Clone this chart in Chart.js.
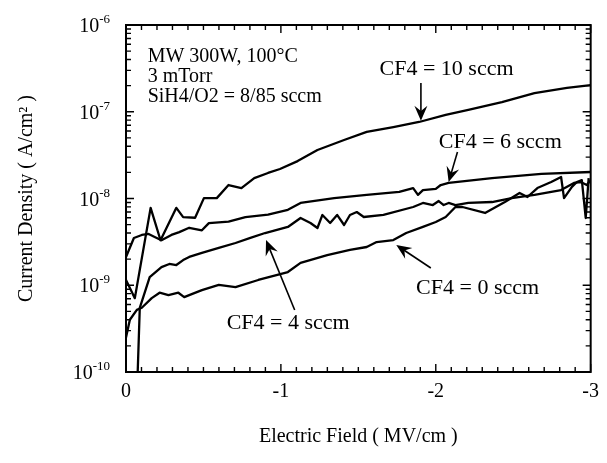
<!DOCTYPE html>
<html>
<head>
<meta charset="utf-8">
<script src="https://cdn.jsdelivr.net/npm/chart.js@4.4.0/dist/chart.umd.min.js"></script>
<style>
  html, body { margin: 0; padding: 0; background: #fff; }
</style>
</head>
<body>
<canvas id="iv-chart" width="607" height="463"></canvas>
<script>
// Electric field (MV/cm) vs current density (A/cm^2), one pair of arrays per CF4 flow
const field10 = [0, -0.057, -0.159, -0.223, -0.325, -0.369, -0.446, -0.503, -0.586, -0.662, -0.745, -0.828, -0.917, -0.994, -1.108, -1.236, -1.408, -1.554, -1.726, -1.892, -2.064, -2.21, -2.427, -2.637, -2.847, -3.0];
const current10 = [1.15e-9, 7.1e-10, 7.8e-9, 3.3e-9, 7.8e-9, 6.1e-9, 6.0e-9, 1.01e-8, 1.01e-8, 1.43e-8, 1.32e-8, 1.72e-8, 1.97e-8, 2.19e-8, 2.70e-8, 3.62e-8, 4.72e-8, 5.85e-8, 6.67e-8, 7.62e-8, 9.18e-8, 1.05e-7, 1.29e-7, 1.64e-7, 1.88e-7, 2.03e-7];

const field6 = [0, -0.051, -0.102, -0.146, -0.185, -0.229, -0.293, -0.344, -0.408, -0.49, -0.535, -0.662, -0.771, -0.917, -1.045, -1.127, -1.344, -1.554, -1.764, -1.854, -1.885, -1.917, -2.0, -2.032, -2.083, -2.363, -2.682, -3.0];
const current6 = [2.12e-9, 3.5e-9, 3.8e-9, 3.9e-9, 3.6e-9, 3.3e-9, 3.8e-9, 4.1e-9, 4.6e-9, 4.3e-9, 5.2e-9, 5.4e-9, 6.1e-9, 6.5e-9, 7.4e-9, 8.9e-9, 1.01e-8, 1.10e-8, 1.19e-8, 1.32e-8, 1.10e-8, 1.25e-8, 1.29e-8, 1.43e-8, 1.51e-8, 1.72e-8, 1.92e-8, 2.02e-8];

const field4 = [-0.07, -0.089, -0.153, -0.229, -0.28, -0.325, -0.369, -0.408, -0.49, -0.599, -0.707, -0.803, -0.898, -1.045, -1.127, -1.191, -1.236, -1.268, -1.318, -1.363, -1.408, -1.446, -1.49, -1.535, -1.662, -1.854, -1.917, -1.981, -2.019, -2.051, -2.083, -2.127, -2.21, -2.363, -2.49, -2.637, -2.809, -2.892, -2.936, -2.975, -3.0];
const current4 = [5e-11, 5.5e-10, 1.24e-9, 1.62e-9, 1.76e-9, 1.71e-9, 1.95e-9, 2.12e-9, 2.36e-9, 2.69e-9, 3.07e-9, 3.51e-9, 4.0e-9, 4.7e-9, 5.96e-9, 5.22e-9, 4.57e-9, 6.46e-9, 5.22e-9, 6.46e-9, 4.95e-9, 6.46e-9, 6.98e-9, 6.12e-9, 6.46e-9, 7.98e-9, 8.88e-9, 8.41e-9, 9.35e-9, 8.41e-9, 8.88e-9, 8.41e-9, 8.88e-9, 9.11e-9, 1.01e-8, 1.10e-8, 1.25e-8, 1.51e-8, 1.55e-8, 1.43e-8, 1.63e-8];

const field0 = [0, -0.025, -0.07, -0.102, -0.166, -0.217, -0.274, -0.338, -0.376, -0.408, -0.49, -0.599, -0.707, -0.854, -1.045, -1.127, -1.299, -1.446, -1.554, -1.618, -1.726, -1.809, -1.917, -2.0, -2.064, -2.127, -2.172, -2.318, -2.446, -2.541, -2.592, -2.656, -2.745, -2.809, -2.828, -2.879, -2.911, -2.943, -2.968, -2.987];
const current0 = [2.5e-10, 4.0e-10, 5.2e-10, 5.5e-10, 7.1e-10, 8.2e-10, 7.7e-10, 8.2e-10, 7.3e-10, 7.7e-10, 8.8e-10, 1.01e-9, 9.5e-10, 1.15e-9, 1.42e-9, 1.81e-9, 2.23e-9, 2.55e-9, 2.76e-9, 3.15e-9, 3.32e-9, 4.0e-9, 4.7e-9, 5.36e-9, 6.12e-9, 7.98e-9, 7.98e-9, 6.81e-9, 9.11e-9, 1.16e-8, 1.04e-8, 1.32e-8, 1.55e-8, 1.77e-8, 1.01e-8, 1.36e-8, 1.55e-8, 1.63e-8, 5.96e-9, 1.72e-8];

const xTicks = [0, -1, -2, -3];
const yDecades = [-10, -9, -8, -7, -6];

const FONT = '"Liberation Serif", "Times New Roman", serif';

const toPoints = (xs, ys) => xs.map((x, i) => ({ x, y: ys[i] }));

// Text labels and arrows, placed in data coordinates
const notes = [
  { text: 'MW 300W, 100°C', x: -0.14, y: 4.27e-7, size: 20 },
  { text: '3 mTorr', x: -0.14, y: 2.52e-7, size: 20 },
  { text: 'SiH4/O2 = 8/85 sccm', x: -0.14, y: 1.48e-7, size: 20 },
  { text: 'CF4 = 10 sccm', x: -1.637, y: 3.11e-7, size: 22 },
  { text: 'CF4 = 6 sccm', x: -2.019, y: 4.48e-8, size: 22 },
  { text: 'CF4 = 4 sccm', x: -0.65, y: 3.67e-10, size: 22 },
  { text: 'CF4 = 0 sccm', x: -1.873, y: 9.29e-10, size: 22 }
];
const arrows = [
  { from: [-1.904, 2.14e-7], to: [-1.904, 7.9e-8] },
  { from: [-2.14, 3.44e-8], to: [-2.083, 1.55e-8] },
  { from: [-1.089, 5.19e-10], to: [-0.904, 3.32e-9] },
  { from: [-1.968, 1.58e-9], to: [-1.745, 2.91e-9] }
];

const framePlugin = {
  id: 'frame',
  afterDatasetsDraw(chart) {
    const { ctx, chartArea: a, scales: { x, y } } = chart;
    ctx.save();
    ctx.strokeStyle = '#000';
    ctx.fillStyle = '#000';

    // plot box
    ctx.lineWidth = 2;
    ctx.strokeRect(a.left, a.top, a.right - a.left, a.bottom - a.top);

    // inward tick marks
    ctx.lineWidth = 1.4;
    ctx.beginPath();
    for (let i = 0; i <= 30; i++) {
      const px = x.getPixelForValue(-i / 10);
      const len = i % 10 === 0 ? 8 : 5;
      ctx.moveTo(px, a.bottom); ctx.lineTo(px, a.bottom - len);
      ctx.moveTo(px, a.top); ctx.lineTo(px, a.top + len);
    }
    for (let d = -10; d < -6; d++) {
      for (let m = 1; m < 10; m++) {
        const py = y.getPixelForValue(m * Math.pow(10, d));
        const len = m === 1 ? 8 : 5;
        ctx.moveTo(a.left, py); ctx.lineTo(a.left + len, py);
        ctx.moveTo(a.right, py); ctx.lineTo(a.right - len, py);
      }
    }
    ctx.stroke();

    // y tick labels as 10 with a raised exponent
    ctx.textAlign = 'right';
    ctx.textBaseline = 'alphabetic';
    yDecades.forEach(d => {
      const py = y.getPixelForValue(Math.pow(10, d));
      const xr = a.left - 16;
      ctx.font = '13px ' + FONT;
      const exp = String(d);
      const w = ctx.measureText(exp).width;
      ctx.fillText(exp, xr, py - 2);
      ctx.font = '20px ' + FONT;
      ctx.fillText('10', xr - w, py + 7);
    });

    // notes
    ctx.textAlign = 'left';
    ctx.textBaseline = 'middle';
    notes.forEach(n => {
      ctx.font = n.size + 'px ' + FONT;
      ctx.fillText(n.text, x.getPixelForValue(n.x), y.getPixelForValue(n.y));
    });

    // arrows
    arrows.forEach(ar => {
      const x0 = x.getPixelForValue(ar.from[0]), y0 = y.getPixelForValue(ar.from[1]);
      const x1 = x.getPixelForValue(ar.to[0]), y1 = y.getPixelForValue(ar.to[1]);
      const ang = Math.atan2(y1 - y0, x1 - x0);
      const head = 15, half = 6.5;
      ctx.lineWidth = 1.6;
      ctx.beginPath();
      ctx.moveTo(x0, y0);
      ctx.lineTo(x1 - Math.cos(ang) * head * 0.6, y1 - Math.sin(ang) * head * 0.6);
      ctx.stroke();
      const bx = x1 - Math.cos(ang) * head, by = y1 - Math.sin(ang) * head;
      const nx = -Math.sin(ang), ny = Math.cos(ang);
      ctx.beginPath();
      ctx.moveTo(x1, y1);
      ctx.lineTo(bx + nx * half, by + ny * half);
      ctx.lineTo(x1 - Math.cos(ang) * head * 0.65, y1 - Math.sin(ang) * head * 0.65);
      ctx.lineTo(bx - nx * half, by - ny * half);
      ctx.closePath();
      ctx.fill();
    });
    ctx.restore();
  }
};

const lineStyle = {
  borderColor: '#000',
  borderWidth: 2.3,
  pointRadius: 0,
  tension: 0,
  fill: false,
  borderJoinStyle: 'round'
};

new Chart(document.getElementById('iv-chart'), {
  type: 'line',
  data: {
    datasets: [
      { label: 'CF4 = 10 sccm', data: toPoints(field10, current10), ...lineStyle },
      { label: 'CF4 = 6 sccm', data: toPoints(field6, current6), ...lineStyle },
      { label: 'CF4 = 4 sccm', data: toPoints(field4, current4), ...lineStyle },
      { label: 'CF4 = 0 sccm', data: toPoints(field0, current0), ...lineStyle }
    ]
  },
  options: {
    responsive: false,
    devicePixelRatio: 1,
    animation: false,
    layout: { padding: { top: 25, right: 9, left: 0, bottom: 0 } },
    plugins: {
      legend: { display: false },
      tooltip: { enabled: false }
    },
    scales: {
      x: {
        type: 'linear',
        min: -3,
        max: 0,
        reverse: true,
        afterBuildTicks: scale => { scale.ticks = xTicks.map(v => ({ value: v })); },
        afterFit: scale => { scale.height = 91; },
        grid: { display: false, drawTicks: false },
        border: { display: false },
        ticks: {
          color: '#000',
          padding: 8,
          maxRotation: 0,
          font: { family: FONT, size: 20 },
          callback: v => String(v)
        },
        title: {
          display: true,
          text: 'Electric Field ( MV/cm )',
          color: '#000',
          font: { family: FONT, size: 20 },
          padding: { top: 0, bottom: 14 }
        }
      },
      y: {
        type: 'logarithmic',
        min: 1e-10,
        max: 1e-6,
        afterFit: scale => { scale.width = 126; },
        grid: { display: false, drawTicks: false },
        border: { display: false },
        ticks: { display: false },
        title: {
          display: true,
          text: 'Current Density ( A/cm² )',
          color: '#000',
          font: { family: FONT, size: 20 },
          padding: { top: 15, bottom: 0 }
        }
      }
    }
  },
  plugins: [framePlugin]
});
</script>
</body>
</html>
